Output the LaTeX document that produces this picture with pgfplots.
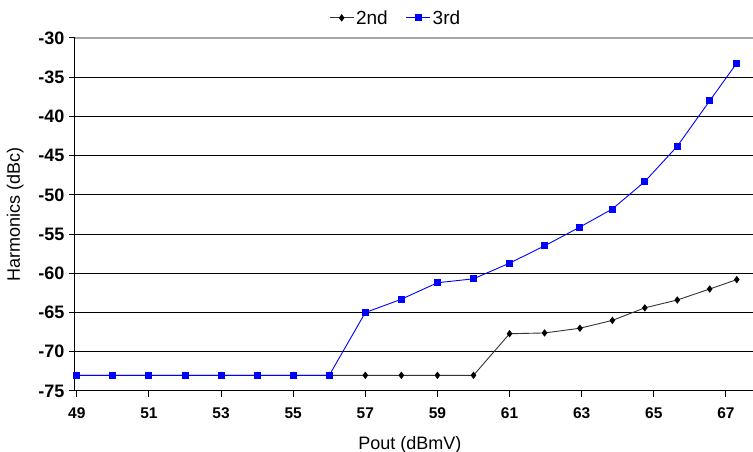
\documentclass[border=0pt]{standalone}
\usepackage{pgfplots}
\pgfplotsset{compat=1.18}
\usepackage{fontspec}
\setmainfont{Liberation Sans}
\begin{document}
\begin{tikzpicture}
\useasboundingbox (-75pt,-61pt) rectangle (678pt,391pt);
\begin{axis}[
  at={(0pt,0pt)}, anchor=south west,
  scale only axis, width=678pt, height=353pt,
  xmin=48.95, xmax=67.75, ymin=-75, ymax=-30,
  xtick={49,51,...,67}, ytick={-75,-70,...,-30},
  axis x line*=bottom, axis y line*=left,
  axis line style={black, line width=1pt},
  tick align=outside, major tick length=6pt,
  tick style={black, line width=1pt},
  ymajorgrids, grid style={black, line width=1pt},
  /pgf/number format/assume math mode=true,
  xticklabel style={font=\fontsize{15.5}{17}\selectfont\bfseries, yshift=-7pt},
  yticklabel style={font=\fontsize{18}{20}\selectfont\bfseries, xshift=-1pt},
  xlabel={Pout (dBmV)}, ylabel={Harmonics (dBc)},
  label style={font=\fontsize{18}{20}\selectfont},
  xlabel style={at={(ticklabel cs:0.494)}, anchor=near ticklabel, yshift=-11pt},
  ylabel style={at={(ticklabel cs:0.5)}, anchor=near ticklabel, yshift=8pt},
  legend columns=2,
  legend style={draw=none, fill=none, font=\fontsize{19}{21}\selectfont, at={(0.473,1.057)}, anchor=center, /tikz/every even column/.append style={column sep=16pt}},
  legend image code/.code={\draw[#1] (0pt,0pt) -- (24pt,0pt); \draw[#1, only marks] plot coordinates {(12pt,0pt)};},
  clip=false,
]
\addplot[black!80, line width=0.9pt, mark=diamond*, mark size=3pt, mark options={black, solid}] coordinates {
(49,-73) (50,-73) (51,-73) (52,-73) (53,-73) (54,-73) (55,-73) (56,-73) (57,-73) (58,-73) (59,-73) (60,-73)
(61,-67.7) (61.97,-67.6) (62.95,-67.0) (63.85,-66.0) (64.75,-64.4) (65.65,-63.4) (66.55,-62.0) (67.3,-60.8)
};
\addlegendentry{2nd}
\addplot[blue, line width=0.9pt, mark=square*, mark size=3pt, mark options={blue, solid}] coordinates {
(49,-73) (50,-73) (51,-73) (52,-73) (53,-73) (54,-73) (55,-73) (56,-73) (57,-65) (58,-63.3) (59,-61.2) (60,-60.7)
(61,-58.7) (61.97,-56.5) (62.95,-54.1) (63.85,-51.8) (64.75,-48.3) (65.65,-43.8) (66.55,-38.0) (67.3,-33.2)
};
\addlegendentry{3rd}
\draw[gray!70, line width=1.3pt] (rel axis cs:0,1) -- (rel axis cs:1,1);
\end{axis}
\end{tikzpicture}
\end{document}
